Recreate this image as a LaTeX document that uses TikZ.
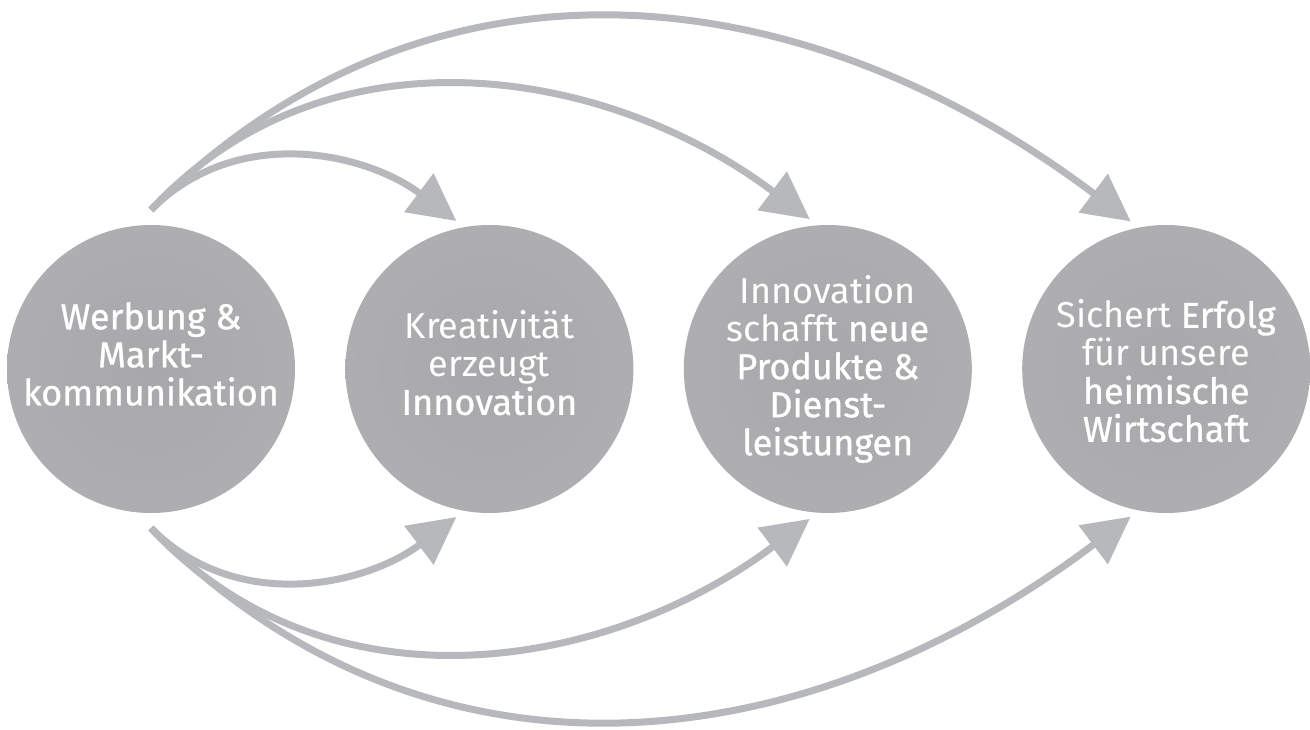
\documentclass[tikz,border=0pt]{standalone}
\usepackage{fontspec}
\setmainfont{Fira Sans}[BoldFont={Fira Sans}, BoldFeatures={FakeBold=0.9}]
\usetikzlibrary{positioning,arrows.meta}
\definecolor{ballmid}{HTML}{A8A8AB}
\definecolor{balllight}{HTML}{B0B0B3}
\definecolor{ballrim}{HTML}{A1A1A4}
\definecolor{balldark}{HTML}{929296}
\definecolor{arrowgray}{HTML}{B7B8BB}
\pgfdeclareradialshading{ballshade}{\pgfpoint{0bp}{0bp}}{color(0bp)=(ballmid); color(34bp)=(balllight); color(45bp)=(ballrim); color(50bp)=(balldark)}
\tikzstyle{ball}=[circle, inner sep=0pt, minimum size=288pt, shading=ballshade]
\tikzstyle{lbl}=[text=white, align=center, inner sep=0pt, font=\fontsize{36}{38}\selectfont]
\tikzstyle{link}=[draw=arrowgray, line width=7pt, -{Triangle[length=47pt,width=47pt]}, shorten >=10pt]

\begin{document}
\begin{tikzpicture}[x=1pt, y=1pt]
	\useasboundingbox (0,-360) rectangle (1310,369);
	\node[ball] (Werbung) at (151,0) {};
	\node[ball] (Kreativ) [right = 50pt of Werbung] {};
	\node[ball] (Neu) [right = 50pt of Kreativ] {};
	\node[ball] (Erfolg) [right = 50pt of Neu] {};
	\node[lbl] (tWerbung) at ([yshift=15pt]Werbung.center) {\textbf{Werbung \&}\\\textbf{Markt-}\\\textbf{kommunikation}};
	\node[lbl] (tKreativ) at ([yshift=6pt]Kreativ.center) {Kreativität\\erzeugt\\\textbf{Innovation}};
	\node[lbl] (tNeu) at (Neu.center) {Innovation\\schafft \textbf{neue}\\\textbf{Produkte \&}\\\textbf{Dienst-}\\\textbf{leistungen}};
	\node[lbl] (tErfolg) at ([yshift=-2pt]Erfolg.center) {Sichert \textbf{Erfolg}\\für unsere\\\textbf{heimische}\\\textbf{Wirtschaft}};
	\coordinate (top) at ([yshift=15pt]Werbung.north);
	\coordinate (bot) at ([yshift=-15pt]Werbung.south);
	
	\draw (top) edge[link,out=45,in=143] (Kreativ.100);
	\draw (top) edge[link,out=47,in=143] (Neu.94);
	\draw (top) edge[link,out=45,in=143,looseness=1.05] (Erfolg.101);
	\draw (bot) edge[link,out=-45,in=-143] (Kreativ.-100);
	\draw (bot) edge[link,out=-47,in=-143] (Neu.-94);
	\draw (bot) edge[link,out=-45,in=-143,looseness=1.05] (Erfolg.-101);
	
\end{tikzpicture}
\end{document}
